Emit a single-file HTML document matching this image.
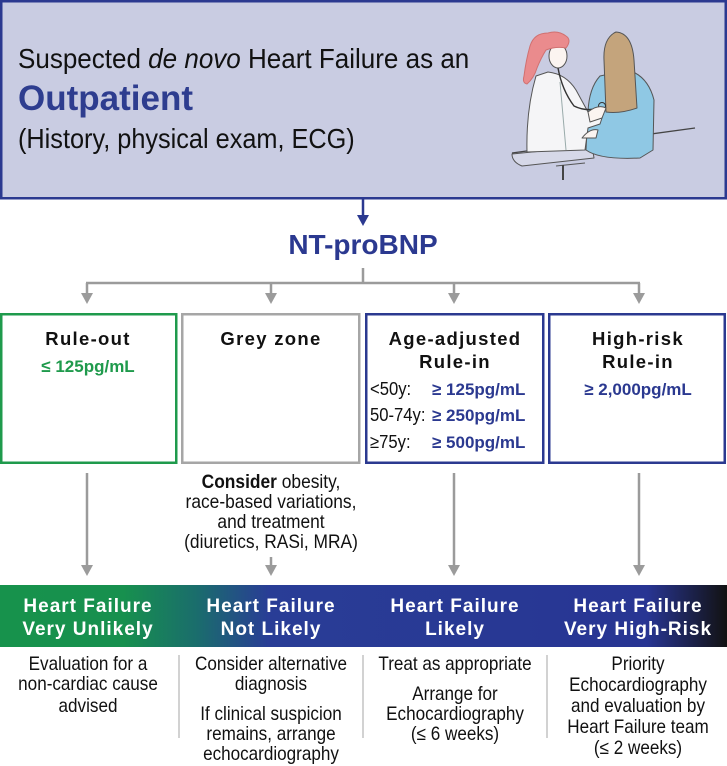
<!DOCTYPE html>
<html>
<head>
<meta charset="utf-8">
<style>
  html,body{margin:0;padding:0;background:#fff;}
  svg{display:block;}
  text{font-family:"Liberation Sans", Arial, sans-serif;}
</style>
</head>
<body>
<svg width="727" height="766" viewBox="0 0 727 766" xmlns="http://www.w3.org/2000/svg">
  <defs>
    <linearGradient id="band" x1="0" y1="0" x2="1" y2="0">
      <stop offset="0" stop-color="#17924c"/>
      <stop offset="0.17" stop-color="#17904e"/>
      <stop offset="0.27" stop-color="#1a6d6c"/>
      <stop offset="0.37" stop-color="#293d96"/>
      <stop offset="0.89" stop-color="#283593"/>
      <stop offset="1" stop-color="#121212"/>
    </linearGradient>
  </defs>

  <!-- Header box -->
  <rect x="1.25" y="1.25" width="724.5" height="197" fill="#c9cce2" stroke="#2b3990" stroke-width="2.5"/>
  <g transform="translate(18,0) scale(0.93,1)">
    <text x="0" y="68" font-size="28" fill="#111">Suspected <tspan font-style="italic">de novo</tspan> Heart Failure as an</text>
  </g>
  <text x="18" y="110" font-size="35" font-weight="bold" fill="#2e3d8f">Outpatient</text>
  <g transform="translate(18,0) scale(0.92,1)">
    <text x="0" y="148" font-size="27.5" fill="#111">(History, physical exam, ECG)</text>
  </g>

  <!-- Illustration -->
  <g stroke="#555" stroke-width="1" stroke-linejoin="round">
    <!-- table -->
    <line x1="512" y1="153" x2="695" y2="128" stroke="#444" stroke-width="1.3"/>
    <path d="M512,154 L592,146 L594,158 L522,166 Q512,162 512,154 Z" fill="#d6d8e8"/>
    <path d="M556,166 L585,163" fill="none"/>
    <line x1="563" y1="165" x2="563" y2="180" stroke="#444" stroke-width="2"/>
    <!-- patient gown -->
    <path d="M600,76 Q589,88 588,112 L586,150 Q600,160 640,158 L653,150 L654,100 Q648,76 628,70 Z" fill="#8fc8e4"/>
    <!-- patient hair -->
    <path d="M614,33 Q603,40 604,60 L606,112 Q620,114 637,108 L634,60 Q632,33 616,32 Z" fill="#c4a47c"/>
    <!-- doctor coat -->
    <path d="M536,76 Q526,110 527,152 L585,150 L588,128 L600,124 L604,112 L588,112 L576,90 Q566,74 548,72 Z" fill="#f5f5f7"/>
    <path d="M560,82 L566,150" fill="none" stroke="#9aa"/>
    <!-- doctor face -->
    <ellipse cx="558" cy="56" rx="9" ry="12" fill="#fbf4f0"/>
    <!-- doctor hair -->
    <path d="M548,33 Q534,33 530,46 Q526,60 524,76 Q522,83 527,84 Q534,78 537,68 Q541,58 546,50 Q556,46 566,48 Q572,40 566,36 Q558,30 548,33 Z" fill="#ea8b8d" stroke="#d07070"/>
    <!-- stethoscope -->
    <path d="M558,68 Q562,90 574,106 Q586,112 600,108" fill="none" stroke="#333" stroke-width="1.4"/>
    <circle cx="602" cy="106" r="3.5" fill="#8fc8e4" stroke="#333"/>
    <!-- hands -->
    <path d="M588,112 Q598,104 606,108 L602,118 L590,122 Z" fill="#fbf4f0"/>
    <path d="M582,138 Q590,128 598,130 L596,138 Z" fill="#fbf4f0"/>
  </g>

  <!-- Arrow header -> NT-proBNP -->
  <line x1="363" y1="199" x2="363" y2="217" stroke="#2b3990" stroke-width="2.5"/>
  <polygon points="357,215 369,215 363,226" fill="#2b3990"/>
  <text x="363" y="254" font-size="28" font-weight="bold" fill="#2b3990" text-anchor="middle">NT-proBNP</text>

  <!-- Grey connectors -->
  <g stroke="#9b9b9b" stroke-width="2.5" fill="none">
    <line x1="363" y1="268" x2="363" y2="283"/>
    <line x1="86" y1="283" x2="640" y2="283"/>
    <line x1="87" y1="283" x2="87" y2="295"/>
    <line x1="271" y1="283" x2="271" y2="295"/>
    <line x1="454" y1="283" x2="454" y2="295"/>
    <line x1="639" y1="283" x2="639" y2="295"/>
  </g>
  <g fill="#9b9b9b">
    <polygon points="81,293 93,293 87,304"/>
    <polygon points="265,293 277,293 271,304"/>
    <polygon points="448,293 460,293 454,304"/>
    <polygon points="633,293 645,293 639,304"/>
  </g>

  <!-- Boxes -->
  <rect x="1.25" y="314.25" width="175" height="148.5" fill="#fff" stroke="#1f9a4c" stroke-width="2.5"/>
  <rect x="182.25" y="314.25" width="177" height="148.5" fill="#fff" stroke="#a6a6a6" stroke-width="2.5"/>
  <rect x="366.25" y="314.25" width="177" height="148.5" fill="#fff" stroke="#2b3990" stroke-width="2.5"/>
  <rect x="549.25" y="314.25" width="175.5" height="148.5" fill="#fff" stroke="#2b3990" stroke-width="2.5"/>

  <g font-size="18.5" font-weight="bold" fill="#111" text-anchor="middle" style="letter-spacing:1.3px">
    <text x="88" y="345">Rule-out</text>
    <text x="271" y="345">Grey zone</text>
    <text x="455" y="345">Age-adjusted</text>
    <text x="455" y="368">Rule-in</text>
    <text x="638" y="345">High-risk</text>
    <text x="638" y="368">Rule-in</text>
  </g>
  <text x="88" y="372" font-size="17" font-weight="bold" fill="#1f9a4c" text-anchor="middle">≤ 125pg/mL</text>
  <text x="638" y="395" font-size="17" font-weight="bold" fill="#2b3990" text-anchor="middle">≥ 2,000pg/mL</text>

  <g transform="translate(370,0) scale(0.9,1)" font-size="18.5" fill="#111">
    <text x="0" y="395">&lt;50y:</text>
    <text x="0" y="421">50-74y:</text>
    <text x="0" y="448">≥75y:</text>
  </g>
  <g font-size="17" font-weight="bold" fill="#2b3990">
    <text x="432" y="395">≥ 125pg/mL</text>
    <text x="432" y="421">≥ 250pg/mL</text>
    <text x="432" y="448">≥ 500pg/mL</text>
  </g>

  <!-- Consider text -->
  <g transform="translate(271,0) scale(0.9,1)" font-size="19.3" fill="#111" text-anchor="middle">
    <text x="0" y="488"><tspan font-weight="bold">Consider</tspan> obesity,</text>
    <text x="0" y="508">race-based variations,</text>
    <text x="0" y="528">and treatment</text>
    <text x="0" y="548">(diuretics, RASi, MRA)</text>
  </g>

  <!-- Down arrows to band -->
  <g stroke="#9b9b9b" stroke-width="2.5" fill="none">
    <line x1="87" y1="473" x2="87" y2="567"/>
    <line x1="271" y1="557" x2="271" y2="567"/>
    <line x1="454" y1="473" x2="454" y2="567"/>
    <line x1="639" y1="473" x2="639" y2="567"/>
  </g>
  <g fill="#9b9b9b">
    <polygon points="81,565 93,565 87,576"/>
    <polygon points="265,565 277,565 271,576"/>
    <polygon points="448,565 460,565 454,576"/>
    <polygon points="633,565 645,565 639,576"/>
  </g>

  <!-- Gradient band -->
  <rect x="0" y="585" width="727" height="62" fill="url(#band)"/>
  <g font-size="19" font-weight="bold" fill="#fff" text-anchor="middle" style="letter-spacing:1px">
    <text x="88" y="612">Heart Failure</text>
    <text x="88" y="635">Very Unlikely</text>
    <text x="271" y="612">Heart Failure</text>
    <text x="271" y="635">Not Likely</text>
    <text x="455" y="612">Heart Failure</text>
    <text x="455" y="635">Likely</text>
    <text x="638" y="612">Heart Failure</text>
    <text x="638" y="635">Very High-Risk</text>
  </g>

  <!-- Separators -->
  <g stroke="#c2c2c2" stroke-width="1.5">
    <line x1="179" y1="655" x2="179" y2="738"/>
    <line x1="363" y1="655" x2="363" y2="738"/>
    <line x1="547" y1="655" x2="547" y2="738"/>
  </g>

  <!-- Bottom texts -->
  <g font-size="19" fill="#111" text-anchor="middle">
    <g transform="translate(88,0) scale(0.9,1)">
      <text x="0" y="670">Evaluation for a</text>
      <text x="0" y="690">non-cardiac cause</text>
      <text x="0" y="712">advised</text>
    </g>
    <g transform="translate(271,0) scale(0.9,1)">
      <text x="0" y="670">Consider alternative</text>
      <text x="0" y="690">diagnosis</text>
      <text x="0" y="720">If clinical suspicion</text>
      <text x="0" y="740">remains, arrange</text>
      <text x="0" y="760">echocardiography</text>
    </g>
    <g transform="translate(455,0) scale(0.9,1)">
      <text x="0" y="670">Treat as appropriate</text>
      <text x="0" y="700">Arrange for</text>
      <text x="0" y="720">Echocardiography</text>
      <text x="0" y="740">(≤  6 weeks)</text>
    </g>
    <g transform="translate(638,0) scale(0.9,1)">
      <text x="0" y="670">Priority</text>
      <text x="0" y="691">Echocardiography</text>
      <text x="0" y="712">and evaluation by</text>
      <text x="0" y="733">Heart Failure team</text>
      <text x="0" y="754">(≤ 2 weeks)</text>
    </g>
  </g>
</svg>
</body>
</html>
